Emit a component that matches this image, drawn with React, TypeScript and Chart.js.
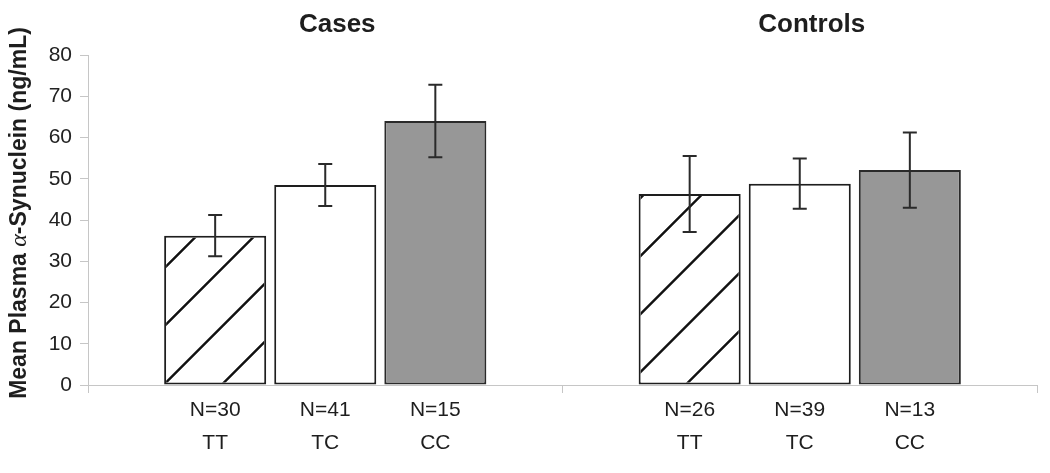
import React, { useEffect, useRef } from "react";
import { Chart, registerables } from "chart.js";
Chart.register(...registerables);

const groups = ["Cases", "Controls"];
const genotypes = ["TT", "TC", "CC"];
const ttMeans = [36.2, 46.3];
const tcMeans = [48.5, 48.8];
const ccMeans = [64.0, 52.1];
const ttErr = [5.0, 9.2];
const tcErr = [5.1, 6.1];
const ccErr = [8.8, 9.1];
const ttN = [30, 26];
const tcN = [41, 39];
const ccN = [15, 13];
const yMin = 0;
const yMax = 80;
const yStep = 10;

const errs = [ttErr, tcErr, ccErr];
const ns = [ttN, tcN, ccN];

const AXIS_GRAY = "#c6c6c6";
const INK = "#1e1e1e";

const hatchPlugin = {
  id: "hatch",
  afterDatasetDraw(chart: any, args: any) {
    if (args.index !== 0) return;
    const ctx = chart.ctx;
    const meta = chart.getDatasetMeta(0);
    meta.data.forEach((el: any) => {
      const p = el.getProps(["x", "y", "base", "width"], true);
      const left = p.x - p.width / 2 + 2;
      const right = p.x + p.width / 2 - 2;
      const top = Math.min(p.y, p.base) + 2;
      const bottom = Math.max(p.y, p.base) - 2;
      const H = bottom - top;
      ctx.save();
      ctx.beginPath();
      ctx.rect(left, top, right - left, bottom - top);
      ctx.clip();
      ctx.strokeStyle = "#111";
      ctx.lineWidth = 2.4;
      const spacing = 58;
      const phase = 48;
      let c = Math.floor((left - H - phase) / spacing) * spacing + phase;
      ctx.beginPath();
      for (; c <= right + spacing; c += spacing) {
        ctx.moveTo(c, bottom + 2);
        ctx.lineTo(c + H + 4, bottom + 2 - (H + 4));
      }
      ctx.stroke();
      ctx.restore();
    });
  },
};

const errorPlugin = {
  id: "errbars",
  afterDatasetsDraw(chart: any) {
    const ctx = chart.ctx;
    const ys = chart.scales.y;
    chart.data.datasets.forEach((ds: any, i: number) => {
      const meta = chart.getDatasetMeta(i);
      meta.data.forEach((el: any, j: number) => {
        const v = ds.data[j];
        const e = errs[i][j];
        const x = el.x;
        const yt = ys.getPixelForValue(v + e);
        const yb = ys.getPixelForValue(v - e);
        ctx.save();
        ctx.strokeStyle = "#2a2a2a";
        ctx.lineWidth = 2;
        ctx.beginPath();
        ctx.moveTo(x, yt);
        ctx.lineTo(x, yb);
        ctx.moveTo(x - 7, yt);
        ctx.lineTo(x + 7, yt);
        ctx.moveTo(x - 7, yb);
        ctx.lineTo(x + 7, yb);
        ctx.stroke();
        ctx.restore();
      });
    });
  },
};

const labelPlugin = {
  id: "labels",
  afterDraw(chart: any) {
    const ctx = chart.ctx;
    const xs = chart.scales.x;
    ctx.save();
    ctx.fillStyle = INK;
    ctx.textAlign = "center";
    ctx.textBaseline = "middle";
    chart.data.datasets.forEach((ds: any, i: number) => {
      const meta = chart.getDatasetMeta(i);
      meta.data.forEach((el: any, j: number) => {
        ctx.font = "21px Arial, 'Liberation Sans', sans-serif";
        ctx.fillText("N=" + ns[i][j], el.x, 410);
        ctx.fillText(genotypes[i], el.x, 443);
      });
    });
    ctx.font = "bold 26px Arial, 'Liberation Sans', sans-serif";
    groups.forEach((g, j) => {
      ctx.fillText(g, xs.getPixelForValue(j) + 12, 25);
    });
    // y-axis title with mixed fonts
    const parts = [
      { t: "Mean Plasma ", f: "bold 23px Arial, 'Liberation Sans', sans-serif" },
      { t: "\u03b1", f: "italic 24px 'Liberation Serif', 'DejaVu Serif', serif" },
      { t: "-Synuclein (ng/mL)", f: "bold 23px Arial, 'Liberation Sans', sans-serif" },
    ];
    let total = 0;
    const widths = parts.map((p) => {
      ctx.font = p.f;
      const w = ctx.measureText(p.t).width;
      total += w;
      return w;
    });
    ctx.translate(20, 213);
    ctx.rotate(-Math.PI / 2);
    ctx.textAlign = "left";
    let x = -total / 2;
    parts.forEach((p, k) => {
      ctx.font = p.f;
      ctx.fillText(p.t, x, 0);
      x += widths[k];
    });
    ctx.restore();
  },
};

export default function App() {
  const ref = useRef<HTMLCanvasElement | null>(null);
  useEffect(() => {
    if (!ref.current) return;
    const chart = new Chart(ref.current, {
      type: "bar",
      data: {
        labels: groups,
        datasets: [
          {
            label: "TT",
            data: ttMeans,
            backgroundColor: "#ffffff",
            borderColor: INK,
            borderWidth: 2,
            borderSkipped: false,
            categoryPercentage: 0.696,
            barPercentage: 0.927,
          },
          {
            label: "TC",
            data: tcMeans,
            backgroundColor: "#ffffff",
            borderColor: INK,
            borderWidth: 2,
            borderSkipped: false,
            categoryPercentage: 0.696,
            barPercentage: 0.927,
          },
          {
            label: "CC",
            data: ccMeans,
            backgroundColor: "#979797",
            borderColor: "#2a2a2a",
            borderWidth: 2,
            borderSkipped: false,
            categoryPercentage: 0.696,
            barPercentage: 0.927,
          },
        ],
      } as any,
      options: {
        animation: false,
        responsive: true,
        maintainAspectRatio: false,
        layout: { padding: { top: 55, right: 13, left: 0, bottom: 0 } },
        plugins: { legend: { display: false }, tooltip: { enabled: false } },
        scales: {
          x: {
            type: "category",
            offset: true,
            grid: {
              offset: true,
              drawOnChartArea: false,
              drawTicks: true,
              tickLength: 8,
              color: AXIS_GRAY,
            },
            border: { color: AXIS_GRAY, width: 1 },
            ticks: { color: "rgba(0,0,0,0)" },
            afterFit: (s: any) => {
              s.height = 88;
            },
          },
          y: {
            min: yMin,
            max: yMax,
            ticks: {
              stepSize: yStep,
              color: "#222",
              padding: 8,
              font: { family: "Arial, 'Liberation Sans', sans-serif", size: 21 },
            },
            grid: {
              drawOnChartArea: false,
              drawTicks: true,
              tickLength: 8,
              color: AXIS_GRAY,
            },
            border: { color: AXIS_GRAY, width: 1 },
            afterFit: (s: any) => {
              s.width = 88;
            },
          },
        },
      } as any,
      plugins: [hatchPlugin, errorPlugin, labelPlugin],
    });
    return () => chart.destroy();
  }, []);
  return (
    <div style={{ position: "fixed", left: 0, top: 0, width: 1050, height: 473, background: "#fff" }}>
      <canvas ref={ref} />
    </div>
  );
}
